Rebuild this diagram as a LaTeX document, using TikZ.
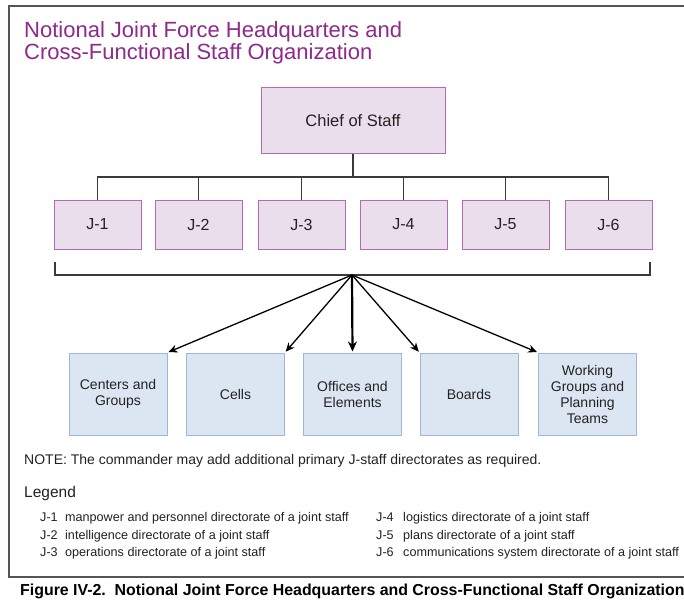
\documentclass[tikz,border=0pt]{standalone}
\usepackage{fontspec}
\setmainfont{Liberation Sans}
\usetikzlibrary{arrows.meta}
\definecolor{titlepurple}{HTML}{8E2A8B}
\definecolor{jfill}{HTML}{EBDEEC}
\definecolor{jdraw}{HTML}{B46AB4}
\definecolor{bfill}{HTML}{DCE6F2}
\definecolor{bdraw}{HTML}{9DB7D9}
\definecolor{ink}{HTML}{222222}
\definecolor{linegray}{HTML}{3A3A3A}
\definecolor{framegray}{HTML}{555555}
\begin{document}
\begin{tikzpicture}[x=1pt,y=-1pt,
  frame/.style={draw=framegray,line width=1.4pt},
  jbox/.style={draw=jdraw,fill=jfill,line width=1pt,text=ink,inner sep=0pt,
    minimum width=87pt,minimum height=49pt,font=\fontsize{16}{18}\selectfont},
  chiefbox/.style={jbox,minimum width=184pt,minimum height=65pt,font=\fontsize{16.5}{19}\selectfont},
  groupbox/.style={draw=bdraw,fill=bfill,line width=1pt,text=ink,inner sep=0pt,
    minimum width=98pt,minimum height=82pt,align=center,
    font=\fontsize{14}{16}\selectfont},
  conn/.style={draw=linegray,line width=1.2pt},
  fan/.style={draw=black,line width=1.3pt,-{Stealth[length=9pt,width=8pt]},shorten >=1pt},
  fanmain/.style={fan,line width=2.2pt,-{Stealth[length=10pt,width=9pt]}},
  txt/.style={anchor=base west,inner sep=0pt,text=ink},
  titletxt/.style={anchor=base west,inner sep=0pt,text=titlepurple,font=\fontsize{22}{24}\selectfont},
  legtxt/.style={txt,font=\fontsize{12.6}{14}\selectfont}
]
\useasboundingbox (0,0) rectangle (684,599);
\clip (0,0) rectangle (684,599);
\fill[white] (0,0) rectangle (684,599);

% outer frame (runs off the right edge)
\draw[frame] (9,6) rectangle (720,577);

% heading
\node[titletxt] (title1) at (24,38) {Notional Joint Force Headquarters and};
\node[titletxt] (title2) at (24,60) {Cross-Functional Staff Organization};

% chief of staff and directorates
\node[chiefbox] (chief) at (353,120.5) {Chief of Staff};
\node[jbox] (j1) at (97.5,224.5) {J-1};
\node[jbox] (j2) at (198.5,224.5) {J-2};
\node[jbox] (j3) at (301.5,224.5) {J-3};
\node[jbox] (j4) at (403.5,224.5) {J-4};
\node[jbox] (j5) at (505.5,224.5) {J-5};
\node[jbox] (j6) at (608.5,224.5) {J-6};

% org-chart bus
\coordinate (bus) at (353,177);
\draw[conn] (chief.south) -- (bus);
\draw[conn] (j1.north) |- (bus) -| (j6.north);
\foreach \j in {j2,j3,j4,j5} \draw[conn] (\j.north) -- (\j.north |- bus);

% bracket under the directorates
\coordinate (brl) at (55,262);
\coordinate (brr) at (650,262);
\coordinate (apex) at (352,275);
\draw[conn] (brl) |- (apex) -| (brr);

% cross-functional groupings
\node[groupbox] (centers) at (118,394) {Centers and\\Groups};
\node[groupbox] (cells) at (235.5,394) {Cells};
\node[groupbox] (offices) at (352.5,394) {Offices and\\Elements};
\node[groupbox] (boards) at (469,394) {Boards};
\node[groupbox] (working) at (587.5,394) {Working\\Groups and\\Planning\\Teams};

\draw[fan] (apex) -- (centers.north east);
\draw[fan] (apex) -- (cells.north east);
\draw[fanmain] (apex) -- (offices.north);
\draw[fan] (apex) -- (boards.north west);
\draw[fan] (apex) -- (working.north west);

% note and legend
\node[txt,font=\fontsize{14}{16}\selectfont] (note) at (24,464)
  {NOTE: The commander may add additional primary J-staff directorates as required.};
\node[txt,font=\fontsize{15.5}{17}\selectfont] (legend) at (24,497) {Legend};

\node[legtxt] (l1) at (40,521) {J-1};
\node[legtxt] (d1) at (65,521) {manpower and personnel directorate of a joint staff};
\node[legtxt] (l2) at (40,539) {J-2};
\node[legtxt] (d2) at (65,539) {intelligence directorate of a joint staff};
\node[legtxt] (l3) at (40,556) {J-3};
\node[legtxt] (d3) at (65,556) {operations directorate of a joint staff};
\node[legtxt] (l4) at (376,521) {J-4};
\node[legtxt] (d4) at (403,521) {logistics directorate of a joint staff};
\node[legtxt] (l5) at (376,539) {J-5};
\node[legtxt] (d5) at (403,539) {plans directorate of a joint staff};
\node[legtxt] (l6) at (376,556) {J-6};
\node[legtxt] (d6) at (403,556) {communications system directorate of a joint staff};

% caption
\node[anchor=base west,inner sep=0pt,text=black,font=\bfseries\fontsize{15.9}{18}\selectfont] (caption) at (20,595)
  {Figure IV-2.\ \ Notional Joint Force Headquarters and Cross-Functional Staff Organization};
\end{tikzpicture}
\end{document}
